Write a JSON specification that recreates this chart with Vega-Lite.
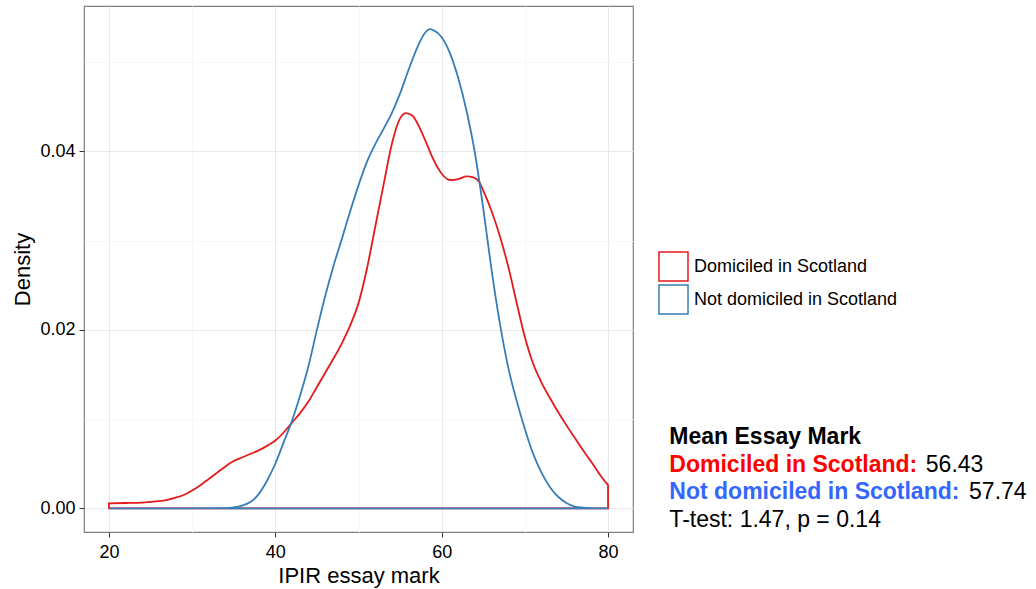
{
  "$schema": "https://vega.github.io/schema/vega-lite/v6.json",
  "width": 549,
  "height": 526,
  "autosize": {"type": "none"},
  "padding": {"left": 84, "top": 6, "right": 403, "bottom": 57},
  "background": "white",
  "config": {
    "font": "Liberation Sans",
    "view": {"stroke": "#7F7F7F", "strokeWidth": 1.2},
    "axis": {
      "domain": false,
      "labelColor": "#000000",
      "labelFontSize": 18,
      "labelFont": "Liberation Sans",
      "titleFont": "Liberation Sans",
      "titleFontSize": 22,
      "titleFontWeight": "normal",
      "titleColor": "#000000",
      "tickColor": "#333333",
      "tickSize": 5,
      "tickWidth": 1,
      "gridWidth": 1
    },
    "legend": {
      "labelFont": "Liberation Sans",
      "labelFontSize": 18,
      "labelColor": "#000000",
      "labelLimit": 400
    }
  },
  "datasets": {
    "notes": [
      {"part": "heading", "t": "Mean Essay Mark"},
      {"part": "dom", "t": "Domiciled in Scotland:", "v": "56.43"},
      {"part": "notdom", "t": "Not domiciled in Scotland:", "v": "57.74"},
      {"part": "ttest", "t": "T-test: 1.47, p = 0.14"}
    ],
    "dens": [
      {"g": "Domiciled in Scotland", "x": 20, "d": 0.00056},
      {"g": "Domiciled in Scotland", "x": 22, "d": 0.0006},
      {"g": "Domiciled in Scotland", "x": 24, "d": 0.00065},
      {"g": "Domiciled in Scotland", "x": 26, "d": 0.0008},
      {"g": "Domiciled in Scotland", "x": 27, "d": 0.00095},
      {"g": "Domiciled in Scotland", "x": 28, "d": 0.0012},
      {"g": "Domiciled in Scotland", "x": 29, "d": 0.0015},
      {"g": "Domiciled in Scotland", "x": 30, "d": 0.002},
      {"g": "Domiciled in Scotland", "x": 31, "d": 0.0026},
      {"g": "Domiciled in Scotland", "x": 32, "d": 0.0033},
      {"g": "Domiciled in Scotland", "x": 33, "d": 0.004},
      {"g": "Domiciled in Scotland", "x": 34, "d": 0.0047},
      {"g": "Domiciled in Scotland", "x": 35, "d": 0.0053},
      {"g": "Domiciled in Scotland", "x": 36, "d": 0.0057},
      {"g": "Domiciled in Scotland", "x": 37, "d": 0.0061},
      {"g": "Domiciled in Scotland", "x": 38, "d": 0.0065},
      {"g": "Domiciled in Scotland", "x": 39, "d": 0.007},
      {"g": "Domiciled in Scotland", "x": 40, "d": 0.0076},
      {"g": "Domiciled in Scotland", "x": 41, "d": 0.0085},
      {"g": "Domiciled in Scotland", "x": 42, "d": 0.0096},
      {"g": "Domiciled in Scotland", "x": 43, "d": 0.0107},
      {"g": "Domiciled in Scotland", "x": 44, "d": 0.012},
      {"g": "Domiciled in Scotland", "x": 45, "d": 0.0136},
      {"g": "Domiciled in Scotland", "x": 46, "d": 0.0152},
      {"g": "Domiciled in Scotland", "x": 47, "d": 0.0168},
      {"g": "Domiciled in Scotland", "x": 48, "d": 0.0185},
      {"g": "Domiciled in Scotland", "x": 49, "d": 0.0205},
      {"g": "Domiciled in Scotland", "x": 50, "d": 0.023},
      {"g": "Domiciled in Scotland", "x": 51, "d": 0.0268},
      {"g": "Domiciled in Scotland", "x": 52, "d": 0.0315},
      {"g": "Domiciled in Scotland", "x": 53, "d": 0.0362},
      {"g": "Domiciled in Scotland", "x": 54, "d": 0.0408},
      {"g": "Domiciled in Scotland", "x": 55, "d": 0.0437},
      {"g": "Domiciled in Scotland", "x": 55.7, "d": 0.0443},
      {"g": "Domiciled in Scotland", "x": 56.5, "d": 0.044},
      {"g": "Domiciled in Scotland", "x": 57, "d": 0.0433},
      {"g": "Domiciled in Scotland", "x": 58, "d": 0.0413},
      {"g": "Domiciled in Scotland", "x": 59, "d": 0.0391},
      {"g": "Domiciled in Scotland", "x": 60, "d": 0.0375},
      {"g": "Domiciled in Scotland", "x": 61, "d": 0.0368},
      {"g": "Domiciled in Scotland", "x": 62, "d": 0.0369},
      {"g": "Domiciled in Scotland", "x": 63, "d": 0.0372},
      {"g": "Domiciled in Scotland", "x": 63.8, "d": 0.0371},
      {"g": "Domiciled in Scotland", "x": 64.5, "d": 0.0366},
      {"g": "Domiciled in Scotland", "x": 65, "d": 0.0356},
      {"g": "Domiciled in Scotland", "x": 66, "d": 0.0333},
      {"g": "Domiciled in Scotland", "x": 67, "d": 0.0305},
      {"g": "Domiciled in Scotland", "x": 68, "d": 0.0271},
      {"g": "Domiciled in Scotland", "x": 69, "d": 0.0231},
      {"g": "Domiciled in Scotland", "x": 70, "d": 0.0192},
      {"g": "Domiciled in Scotland", "x": 71, "d": 0.0162},
      {"g": "Domiciled in Scotland", "x": 72, "d": 0.0141},
      {"g": "Domiciled in Scotland", "x": 73, "d": 0.0124},
      {"g": "Domiciled in Scotland", "x": 74, "d": 0.0108},
      {"g": "Domiciled in Scotland", "x": 75, "d": 0.0093},
      {"g": "Domiciled in Scotland", "x": 76, "d": 0.0079},
      {"g": "Domiciled in Scotland", "x": 77, "d": 0.0065},
      {"g": "Domiciled in Scotland", "x": 78, "d": 0.0052},
      {"g": "Domiciled in Scotland", "x": 79, "d": 0.0038},
      {"g": "Domiciled in Scotland", "x": 80, "d": 0.0026},
      {"g": "Not domiciled in Scotland", "x": 20, "d": 0},
      {"g": "Not domiciled in Scotland", "x": 30, "d": 0},
      {"g": "Not domiciled in Scotland", "x": 34, "d": 0.00002},
      {"g": "Not domiciled in Scotland", "x": 35, "d": 0.0001},
      {"g": "Not domiciled in Scotland", "x": 36, "d": 0.0003},
      {"g": "Not domiciled in Scotland", "x": 37, "d": 0.0007},
      {"g": "Not domiciled in Scotland", "x": 38, "d": 0.0016},
      {"g": "Not domiciled in Scotland", "x": 39, "d": 0.0031},
      {"g": "Not domiciled in Scotland", "x": 40, "d": 0.005},
      {"g": "Not domiciled in Scotland", "x": 41, "d": 0.0074},
      {"g": "Not domiciled in Scotland", "x": 42, "d": 0.0098},
      {"g": "Not domiciled in Scotland", "x": 43, "d": 0.0127},
      {"g": "Not domiciled in Scotland", "x": 44, "d": 0.016},
      {"g": "Not domiciled in Scotland", "x": 45, "d": 0.02},
      {"g": "Not domiciled in Scotland", "x": 46, "d": 0.0238},
      {"g": "Not domiciled in Scotland", "x": 47, "d": 0.0272},
      {"g": "Not domiciled in Scotland", "x": 48, "d": 0.0302},
      {"g": "Not domiciled in Scotland", "x": 49, "d": 0.0333},
      {"g": "Not domiciled in Scotland", "x": 50, "d": 0.0362},
      {"g": "Not domiciled in Scotland", "x": 51, "d": 0.0388},
      {"g": "Not domiciled in Scotland", "x": 52, "d": 0.0408},
      {"g": "Not domiciled in Scotland", "x": 53, "d": 0.0425},
      {"g": "Not domiciled in Scotland", "x": 54, "d": 0.0443},
      {"g": "Not domiciled in Scotland", "x": 55, "d": 0.0465},
      {"g": "Not domiciled in Scotland", "x": 56, "d": 0.0491},
      {"g": "Not domiciled in Scotland", "x": 57, "d": 0.0515},
      {"g": "Not domiciled in Scotland", "x": 58, "d": 0.0533},
      {"g": "Not domiciled in Scotland", "x": 58.6, "d": 0.0537},
      {"g": "Not domiciled in Scotland", "x": 59, "d": 0.0536},
      {"g": "Not domiciled in Scotland", "x": 60, "d": 0.0528},
      {"g": "Not domiciled in Scotland", "x": 61, "d": 0.051},
      {"g": "Not domiciled in Scotland", "x": 62, "d": 0.0482},
      {"g": "Not domiciled in Scotland", "x": 63, "d": 0.0445},
      {"g": "Not domiciled in Scotland", "x": 64, "d": 0.0398},
      {"g": "Not domiciled in Scotland", "x": 65, "d": 0.0336},
      {"g": "Not domiciled in Scotland", "x": 66, "d": 0.0267},
      {"g": "Not domiciled in Scotland", "x": 67, "d": 0.0207},
      {"g": "Not domiciled in Scotland", "x": 68, "d": 0.0158},
      {"g": "Not domiciled in Scotland", "x": 69, "d": 0.0121},
      {"g": "Not domiciled in Scotland", "x": 70, "d": 0.0089},
      {"g": "Not domiciled in Scotland", "x": 71, "d": 0.0061},
      {"g": "Not domiciled in Scotland", "x": 72, "d": 0.004},
      {"g": "Not domiciled in Scotland", "x": 73, "d": 0.0024},
      {"g": "Not domiciled in Scotland", "x": 74, "d": 0.0013},
      {"g": "Not domiciled in Scotland", "x": 75, "d": 0.0006},
      {"g": "Not domiciled in Scotland", "x": 76, "d": 0.0002},
      {"g": "Not domiciled in Scotland", "x": 77, "d": 0.00008},
      {"g": "Not domiciled in Scotland", "x": 78, "d": 0.00003},
      {"g": "Not domiciled in Scotland", "x": 80, "d": 0}
    ]
  },
  "layer": [
    {
      "data": {"name": "dens"},
      "mark": {"type": "area", "fill": "transparent", "strokeWidth": 1.8, "interpolate": "monotone"},
      "encoding": {
        "x": {
          "field": "x", "type": "quantitative",
          "scale": {"domain": [17, 83], "nice": false, "zero": false},
          "axis": {
            "title": "IPIR essay mark",
            "values": [20, 30, 40, 50, 60, 70, 80],
            "labelExpr": "datum.value % 20 === 0 ? datum.label : ''",
            "tickOpacity": {"condition": {"test": "datum.value % 20 === 0", "value": 1}, "value": 0},
            "gridColor": {"condition": {"test": "datum.value % 20 === 0", "value": "#E8E8E8"}, "value": "#F7F7F7"},
            "labelPadding": 6,
            "titlePadding": 4
          }
        },
        "y": {
          "field": "d", "type": "quantitative", "stack": null,
          "scale": {"domain": [-0.00265, 0.0563], "nice": false, "zero": false},
          "axis": {
            "title": "Density",
            "values": [0, 0.01, 0.02, 0.03, 0.04, 0.05],
            "format": ".2f",
            "labelExpr": "abs(datum.value*50 - round(datum.value*50)) < 0.000001 ? datum.label : ''",
            "tickOpacity": {"condition": {"test": "abs(datum.value*50 - round(datum.value*50)) < 0.000001", "value": 1}, "value": 0},
            "gridColor": {"condition": {"test": "abs(datum.value*50 - round(datum.value*50)) < 0.000001", "value": "#E8E8E8"}, "value": "#F7F7F7"},
            "labelPadding": 4,
            "titlePadding": 5
          }
        },
        "stroke": {
          "field": "g", "type": "nominal",
          "scale": {"domain": ["Domiciled in Scotland", "Not domiciled in Scotland"], "range": ["#E41A1C", "#377EB8"]},
          "legend": {
            "title": null,
            "orient": "none",
            "legendX": 574,
            "legendY": 245,
            "padding": 0,
            "symbolType": "square",
            "symbolSize": 841,
            "symbolStrokeWidth": 1.5,
            "symbolFillColor": "transparent",
            "labelOffset": 5,
            "rowPadding": -2
          }
        }
      }
    },
    {
      "data": {"name": "notes"},
      "transform": [{"filter": "datum.part === 'heading'"}],
      "mark": {"type": "text", "align": "left", "baseline": "alphabetic", "fontSize": 23, "fontWeight": "bold", "color": "#000000"},
      "encoding": {"text": {"field": "t"}, "x": {"datum": 87.37}, "y": {"datum": 0.00718}}
    },
    {
      "data": {"name": "notes"},
      "transform": [{"filter": "datum.part === 'dom'"}],
      "mark": {"type": "text", "align": "left", "baseline": "alphabetic", "fontSize": 23, "fontWeight": "bold", "color": "#FF0000"},
      "encoding": {"text": {"field": "t"}, "x": {"datum": 87.37}, "y": {"datum": 0.00411}}
    },
    {
      "data": {"name": "notes"},
      "transform": [{"filter": "datum.part === 'dom'"}],
      "mark": {"type": "text", "align": "left", "baseline": "alphabetic", "fontSize": 23, "color": "#000000"},
      "encoding": {"text": {"field": "v"}, "x": {"datum": 118.2}, "y": {"datum": 0.00411}}
    },
    {
      "data": {"name": "notes"},
      "transform": [{"filter": "datum.part === 'notdom'"}],
      "mark": {"type": "text", "align": "left", "baseline": "alphabetic", "fontSize": 23, "fontWeight": "bold", "color": "#3366FF"},
      "encoding": {"text": {"field": "t"}, "x": {"datum": 87.37}, "y": {"datum": 0.00102}}
    },
    {
      "data": {"name": "notes"},
      "transform": [{"filter": "datum.part === 'notdom'"}],
      "mark": {"type": "text", "align": "left", "baseline": "alphabetic", "fontSize": 23, "color": "#000000"},
      "encoding": {"text": {"field": "v"}, "x": {"datum": 123.4}, "y": {"datum": 0.00102}}
    },
    {
      "data": {"name": "notes"},
      "transform": [{"filter": "datum.part === 'ttest'"}],
      "mark": {"type": "text", "align": "left", "baseline": "alphabetic", "fontSize": 23, "color": "#000000"},
      "encoding": {"text": {"field": "t"}, "x": {"datum": 87.37}, "y": {"datum": -0.00212}}
    }
  ]
}
